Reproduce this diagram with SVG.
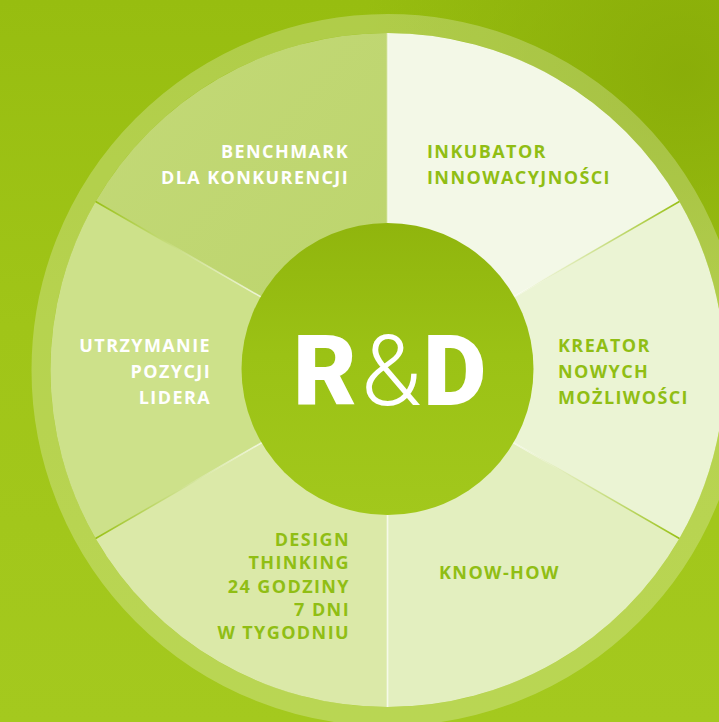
<svg xmlns="http://www.w3.org/2000/svg" width="719" height="722" viewBox="0 0 719 722">
  <defs>
    <linearGradient id="bg" x1="0" y1="0" x2="0" y2="1">
      <stop offset="0" stop-color="#97bd10"/>
      <stop offset="0.45" stop-color="#a0c518"/>
      <stop offset="1" stop-color="#a4c91e"/>
    </linearGradient>
    <radialGradient id="bgTR" cx="0.95" cy="0.1" r="0.45">
      <stop offset="0" stop-color="#86a906" stop-opacity="0.8"/>
      <stop offset="1" stop-color="#86a906" stop-opacity="0"/>
    </radialGradient>
    <linearGradient id="core" x1="0" y1="0" x2="0" y2="1">
      <stop offset="0" stop-color="#90b50d"/>
      <stop offset="0.45" stop-color="#9bc215"/>
      <stop offset="1" stop-color="#a2c81c"/>
    </linearGradient>
    <linearGradient id="tl" x1="0" y1="0" x2="1" y2="1">
      <stop offset="0" stop-color="#c3d977"/>
      <stop offset="1" stop-color="#bcd46c"/>
    </linearGradient>
    <linearGradient id="gUL" gradientUnits="userSpaceOnUse" x1="95.6" y1="201.5" x2="387.5" y2="370">
      <stop offset="0" stop-color="#98c014"/>
      <stop offset="0.55" stop-color="#ffffff" stop-opacity="0.7"/>
      <stop offset="1" stop-color="#ffffff"/>
    </linearGradient>
    <linearGradient id="gUR" gradientUnits="userSpaceOnUse" x1="679.4" y1="201.5" x2="387.5" y2="370">
      <stop offset="0" stop-color="#98c014"/>
      <stop offset="0.55" stop-color="#ffffff" stop-opacity="0.7"/>
      <stop offset="1" stop-color="#ffffff"/>
    </linearGradient>
    <linearGradient id="gLL" gradientUnits="userSpaceOnUse" x1="95.6" y1="538.5" x2="387.5" y2="370">
      <stop offset="0" stop-color="#98c014"/>
      <stop offset="0.55" stop-color="#ffffff" stop-opacity="0.7"/>
      <stop offset="1" stop-color="#ffffff"/>
    </linearGradient>
    <linearGradient id="gLR" gradientUnits="userSpaceOnUse" x1="679.4" y1="538.5" x2="387.5" y2="370">
      <stop offset="0" stop-color="#98c014"/>
      <stop offset="0.55" stop-color="#ffffff" stop-opacity="0.7"/>
      <stop offset="1" stop-color="#ffffff"/>
    </linearGradient>
  </defs>
  <style>
    .lbl { font-family: "Open Sans", "Liberation Sans", sans-serif; font-weight: 700; font-size: 18px; letter-spacing: 1.4px; }
    .w { fill: #ffffff; }
    .g { fill: #90be14; }
    .end { text-anchor: end; }
    .sep { stroke-width: 1.6; fill: none; }
    .big { font-family: Roboto, "Liberation Sans", sans-serif; font-size: 98px; fill: #ffffff; }
  </style>

  <rect x="0" y="0" width="719" height="722" fill="url(#bg)"/>
  <rect x="0" y="0" width="719" height="722" fill="url(#bgTR)"/>

  <!-- outer ring -->
  <circle id="ring" cx="387.5" cy="370" r="346.5" fill="none" stroke="#ffffff" stroke-opacity="0.24" stroke-width="19"/>

  <!-- sectors -->
  <g id="sector-benchmark">
    <path d="M387.5 370 L95.6 201.5 A337 337 0 0 1 387.5 33 Z" fill="url(#tl)"/>
    <text class="lbl w end" x="349" y="158">BENCHMARK</text>
    <text class="lbl w end" x="349" y="184">DLA KONKURENCJI</text>
  </g>
  <g id="sector-inkubator">
    <path d="M387.5 370 L387.5 33 A337 337 0 0 1 679.4 201.5 Z" fill="#f3f8e7"/>
    <text class="lbl g" x="427" y="158">INKUBATOR</text>
    <text class="lbl g" x="427" y="184">INNOWACYJNOŚCI</text>
  </g>
  <g id="sector-kreator">
    <path d="M387.5 370 L679.4 201.5 A337 337 0 0 1 679.4 538.5 Z" fill="#ebf4d4"/>
    <text class="lbl g" x="558" y="352">KREATOR</text>
    <text class="lbl g" x="558" y="378">NOWYCH</text>
    <text class="lbl g" x="558" y="404">MOŻLIWOŚCI</text>
  </g>
  <g id="sector-knowhow">
    <path d="M387.5 370 L679.4 538.5 A337 337 0 0 1 387.5 707 Z" fill="#e3efbf"/>
    <text class="lbl g" x="439" y="579">KNOW-HOW</text>
  </g>
  <g id="sector-design">
    <path d="M387.5 370 L387.5 707 A337 337 0 0 1 95.6 538.5 Z" fill="#dbe9a8"/>
    <text class="lbl g end" x="350" y="546">DESIGN</text>
    <text class="lbl g end" x="350" y="569">THINKING</text>
    <text class="lbl g end" x="350" y="593">24 GODZINY</text>
    <text class="lbl g end" x="350" y="616">7 DNI</text>
    <text class="lbl g end" x="350" y="639">W TYGODNIU</text>
  </g>
  <g id="sector-utrzymanie">
    <path d="M387.5 370 L95.6 538.5 A337 337 0 0 1 95.6 201.5 Z" fill="#cde18a"/>
    <text class="lbl w end" x="211" y="352">UTRZYMANIE</text>
    <text class="lbl w end" x="211" y="378">POZYCJI</text>
    <text class="lbl w end" x="211" y="404">LIDERA</text>
  </g>

  <!-- connectors / separators -->
  <g id="separators">
    <line class="sep" x1="387.5" y1="33" x2="387.5" y2="370" stroke="#ffffff" stroke-opacity="0.55"/>
    <line class="sep" x1="387.5" y1="370" x2="387.5" y2="707" stroke="#ffffff" stroke-opacity="0.8"/>
    <line class="sep" x1="95.6" y1="201.5" x2="387.5" y2="370" stroke="url(#gUL)"/>
    <line class="sep" x1="679.4" y1="201.5" x2="387.5" y2="370" stroke="url(#gUR)"/>
    <line class="sep" x1="95.6" y1="538.5" x2="387.5" y2="370" stroke="url(#gLL)"/>
    <line class="sep" x1="679.4" y1="538.5" x2="387.5" y2="370" stroke="url(#gLR)"/>
  </g>

  <!-- center -->
  <g id="center">
    <circle cx="387.5" cy="369" r="146" fill="url(#core)"/>
    <text class="big" x="293" y="405" font-weight="900">R</text>
    <text class="big" x="361" y="405" font-weight="300" font-size="88">&amp;</text>
    <text class="big" x="423" y="405" font-weight="900">D</text>
  </g>
</svg>
